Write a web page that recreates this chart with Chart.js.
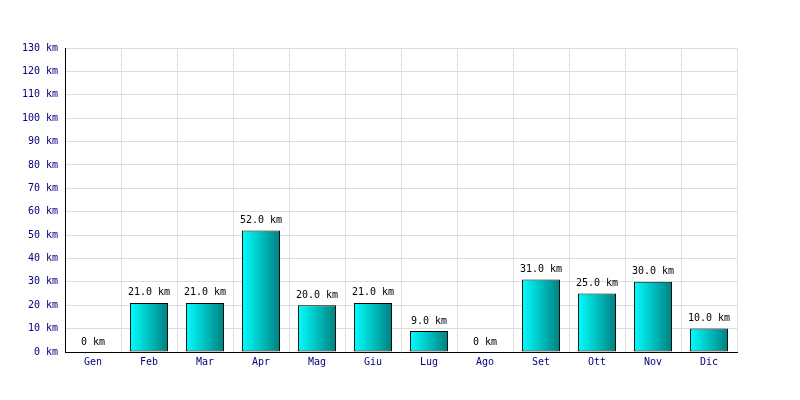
<!DOCTYPE html>
<html>
<head>
<meta charset="utf-8">
<script src="https://cdn.jsdelivr.net/npm/chart.js@4.4.1/dist/chart.umd.min.js"></script>
<style>
  html, body { margin: 0; padding: 0; background: #ffffff; }
  #wrap { width: 800px; height: 400px; }
</style>
</head>
<body>
<div id="wrap"><canvas id="chart" width="800" height="400"></canvas></div>
<script>
const MONTHS = ["Gen", "Feb", "Mar", "Apr", "Mag", "Giu", "Lug", "Ago", "Set", "Ott", "Nov", "Dic"];
const KM_VALUES = [0, 21, 21, 52, 20, 21, 9, 0, 31, 25, 30, 10];
const Y_MAX = 130;
const Y_STEP = 10;

const FONT = { family: "'DejaVu Sans Mono', monospace", size: 10 };
const TICK_COLOR = "#000080";

function kmLabel(value) {
  return value === 0 ? "0 km" : `${value.toFixed(1)} km`;
}

function barGradient(ctx) {
  const chart = ctx.chart;
  const xs = chart.scales.x;
  if (!xs || ctx.dataIndex === undefined) return "#00c0c0";
  const center = xs.getPixelForValue(ctx.dataIndex);
  const half = (xs.width / MONTHS.length) * 0.68 / 2;
  if (!Number.isFinite(center) || !Number.isFinite(half) || half <= 0) return "#00c0c0";
  const g = chart.ctx.createLinearGradient(center - half, 0, center + half, 0);
  g.addColorStop(0, "#00ffff");
  g.addColorStop(1, "#008080");
  return g;
}

const valueLabels = {
  id: "valueLabels",
  afterDatasetsDraw(chart) {
    const c = chart.ctx;
    const meta = chart.getDatasetMeta(0);
    c.save();
    c.font = `${FONT.size}px ${FONT.family}`;
    c.fillStyle = "#000000";
    c.textAlign = "center";
    c.textBaseline = "bottom";
    meta.data.forEach((bar, i) => {
      c.fillText(kmLabel(KM_VALUES[i]), bar.x, bar.y - 5);
    });
    c.restore();
  },
};

new Chart(document.getElementById("chart"), {
  type: "bar",
  data: {
    labels: MONTHS,
    datasets: [{
      data: KM_VALUES,
      backgroundColor: barGradient,
      borderColor: "#000000",
      borderWidth: ctx => (KM_VALUES[ctx.dataIndex] === 0 ? 0 : 1),
      borderSkipped: false,
      barPercentage: 0.68,
      categoryPercentage: 1,
    }],
  },
  options: {
    responsive: false,
    animation: false,
    layout: { padding: { top: 48, right: 63, left: 0, bottom: 0 } },
    plugins: {
      legend: { display: false },
      tooltip: { enabled: false },
    },
    scales: {
      x: {
        offset: true,
        grid: { color: "#dddddd", offset: true, drawTicks: false },
        border: { color: "#000000" },
        ticks: { color: TICK_COLOR, font: FONT, padding: 4 },
        afterFit: scale => { scale.height = 48; },
      },
      y: {
        min: 0,
        max: Y_MAX,
        grid: { color: "#dddddd", drawTicks: false },
        border: { color: "#000000" },
        ticks: {
          stepSize: Y_STEP,
          color: TICK_COLOR,
          font: FONT,
          padding: 7,
          callback: value => `${value} km`,
        },
        afterFit: scale => { scale.width = 65; },
      },
    },
  },
  plugins: [valueLabels],
});
</script>
</body>
</html>
